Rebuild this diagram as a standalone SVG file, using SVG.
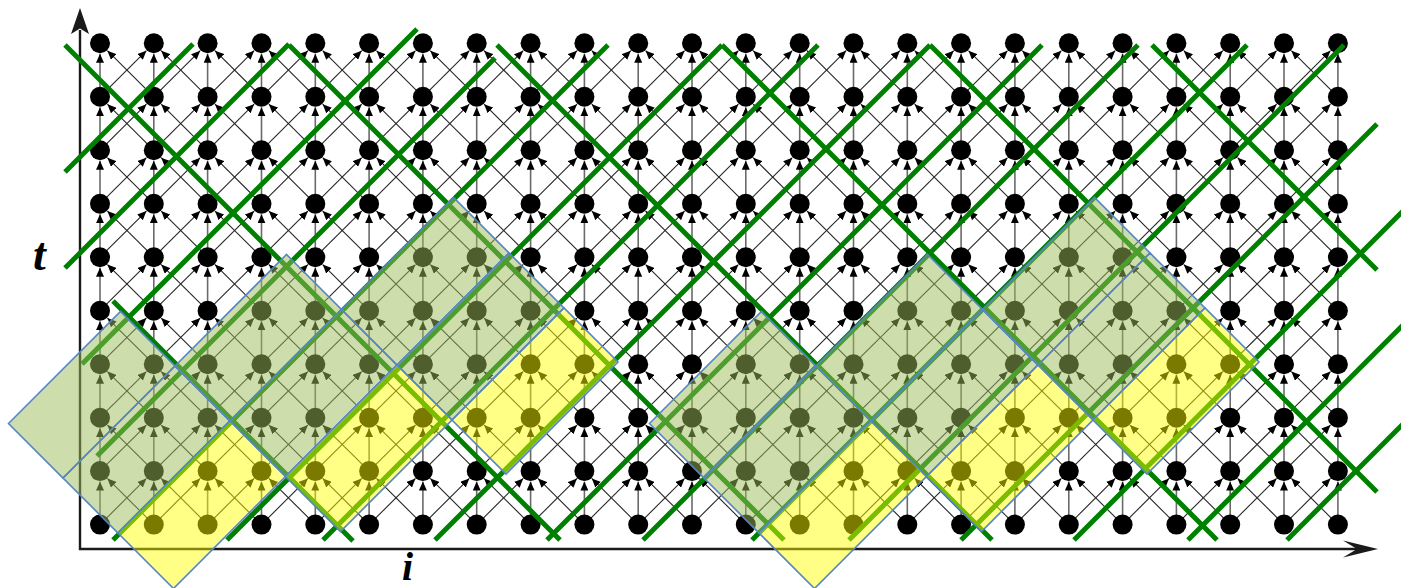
<svg xmlns="http://www.w3.org/2000/svg" xmlns:xlink="http://www.w3.org/1999/xlink" width="1401" height="588" viewBox="0 0 1401 588">
<style>
.v{stroke:#6a6a6a;stroke-width:1.6;fill:none;marker-end:url(#ah)}
.d{stroke:#262626;stroke-width:1.1;fill:none;marker-end:url(#ah)}
.ax{stroke:#1a1a1a;stroke-width:2.4;fill:none}
.axh{fill:#1a1a1a}
.grn{stroke:#008000;stroke-width:5;fill:none}
.ol{fill:#9bbb59;fill-opacity:0.5;stroke:#5585c5;stroke-width:1.6}
.ye{fill:#ffff00;fill-opacity:0.48;stroke:#5585c5;stroke-width:1.6}
.lbl{font-family:"Liberation Serif",serif;font-style:italic;font-weight:bold;font-size:46px;fill:#000}
</style>
<defs>
<marker id="ah" viewBox="0 0 9 8" refX="9" refY="4" markerWidth="9" markerHeight="8" markerUnits="userSpaceOnUse" orient="auto"><path d="M0,0 L9,4 L0,8 z" fill="#000"/></marker>
<circle id="dot" r="10" fill="#000"/>
<g id="c3"><line class="v" x1="0" y1="53.48" x2="0" y2="10.5"/><line class="d" x1="-53.82" y1="53.48" x2="-7.4" y2="7.35"/><line class="d" x1="53.82" y1="53.48" x2="7.4" y2="7.35"/></g>
<g id="cL"><line class="v" x1="0" y1="53.48" x2="0" y2="10.5"/><line class="d" x1="53.82" y1="53.48" x2="7.4" y2="7.35"/></g>
<g id="cR"><line class="v" x1="0" y1="53.48" x2="0" y2="10.5"/><line class="d" x1="-53.82" y1="53.48" x2="-7.4" y2="7.35"/></g>
</defs>
<rect width="1401" height="588" fill="#fff"/>
<g id="connectors">
<g transform="translate(0,43.3)"><use href="#cL" x="100"/><use href="#c3" x="153.8"/><use href="#c3" x="207.6"/><use href="#c3" x="261.5"/><use href="#c3" x="315.3"/><use href="#c3" x="369.1"/><use href="#c3" x="422.9"/><use href="#c3" x="476.7"/><use href="#c3" x="530.6"/><use href="#c3" x="584.4"/><use href="#c3" x="638.2"/><use href="#c3" x="692"/><use href="#c3" x="745.8"/><use href="#c3" x="799.7"/><use href="#c3" x="853.5"/><use href="#c3" x="907.3"/><use href="#c3" x="961.1"/><use href="#c3" x="1014.9"/><use href="#c3" x="1068.8"/><use href="#c3" x="1122.6"/><use href="#c3" x="1176.4"/><use href="#c3" x="1230.2"/><use href="#c3" x="1284"/><use href="#cR" x="1337.9"/></g>
<g transform="translate(0,96.8)"><use href="#cL" x="100"/><use href="#c3" x="153.8"/><use href="#c3" x="207.6"/><use href="#c3" x="261.5"/><use href="#c3" x="315.3"/><use href="#c3" x="369.1"/><use href="#c3" x="422.9"/><use href="#c3" x="476.7"/><use href="#c3" x="530.6"/><use href="#c3" x="584.4"/><use href="#c3" x="638.2"/><use href="#c3" x="692"/><use href="#c3" x="745.8"/><use href="#c3" x="799.7"/><use href="#c3" x="853.5"/><use href="#c3" x="907.3"/><use href="#c3" x="961.1"/><use href="#c3" x="1014.9"/><use href="#c3" x="1068.8"/><use href="#c3" x="1122.6"/><use href="#c3" x="1176.4"/><use href="#c3" x="1230.2"/><use href="#c3" x="1284"/><use href="#cR" x="1337.9"/></g>
<g transform="translate(0,150.3)"><use href="#cL" x="100"/><use href="#c3" x="153.8"/><use href="#c3" x="207.6"/><use href="#c3" x="261.5"/><use href="#c3" x="315.3"/><use href="#c3" x="369.1"/><use href="#c3" x="422.9"/><use href="#c3" x="476.7"/><use href="#c3" x="530.6"/><use href="#c3" x="584.4"/><use href="#c3" x="638.2"/><use href="#c3" x="692"/><use href="#c3" x="745.8"/><use href="#c3" x="799.7"/><use href="#c3" x="853.5"/><use href="#c3" x="907.3"/><use href="#c3" x="961.1"/><use href="#c3" x="1014.9"/><use href="#c3" x="1068.8"/><use href="#c3" x="1122.6"/><use href="#c3" x="1176.4"/><use href="#c3" x="1230.2"/><use href="#c3" x="1284"/><use href="#cR" x="1337.9"/></g>
<g transform="translate(0,203.7)"><use href="#cL" x="100"/><use href="#c3" x="153.8"/><use href="#c3" x="207.6"/><use href="#c3" x="261.5"/><use href="#c3" x="315.3"/><use href="#c3" x="369.1"/><use href="#c3" x="422.9"/><use href="#c3" x="476.7"/><use href="#c3" x="530.6"/><use href="#c3" x="584.4"/><use href="#c3" x="638.2"/><use href="#c3" x="692"/><use href="#c3" x="745.8"/><use href="#c3" x="799.7"/><use href="#c3" x="853.5"/><use href="#c3" x="907.3"/><use href="#c3" x="961.1"/><use href="#c3" x="1014.9"/><use href="#c3" x="1068.8"/><use href="#c3" x="1122.6"/><use href="#c3" x="1176.4"/><use href="#c3" x="1230.2"/><use href="#c3" x="1284"/><use href="#cR" x="1337.9"/></g>
<g transform="translate(0,257.2)"><use href="#cL" x="100"/><use href="#c3" x="153.8"/><use href="#c3" x="207.6"/><use href="#c3" x="261.5"/><use href="#c3" x="315.3"/><use href="#c3" x="369.1"/><use href="#c3" x="422.9"/><use href="#c3" x="476.7"/><use href="#c3" x="530.6"/><use href="#c3" x="584.4"/><use href="#c3" x="638.2"/><use href="#c3" x="692"/><use href="#c3" x="745.8"/><use href="#c3" x="799.7"/><use href="#c3" x="853.5"/><use href="#c3" x="907.3"/><use href="#c3" x="961.1"/><use href="#c3" x="1014.9"/><use href="#c3" x="1068.8"/><use href="#c3" x="1122.6"/><use href="#c3" x="1176.4"/><use href="#c3" x="1230.2"/><use href="#c3" x="1284"/><use href="#cR" x="1337.9"/></g>
<g transform="translate(0,310.7)"><use href="#cL" x="100"/><use href="#c3" x="153.8"/><use href="#c3" x="207.6"/><use href="#c3" x="261.5"/><use href="#c3" x="315.3"/><use href="#c3" x="369.1"/><use href="#c3" x="422.9"/><use href="#c3" x="476.7"/><use href="#c3" x="530.6"/><use href="#c3" x="584.4"/><use href="#c3" x="638.2"/><use href="#c3" x="692"/><use href="#c3" x="745.8"/><use href="#c3" x="799.7"/><use href="#c3" x="853.5"/><use href="#c3" x="907.3"/><use href="#c3" x="961.1"/><use href="#c3" x="1014.9"/><use href="#c3" x="1068.8"/><use href="#c3" x="1122.6"/><use href="#c3" x="1176.4"/><use href="#c3" x="1230.2"/><use href="#c3" x="1284"/><use href="#cR" x="1337.9"/></g>
<g transform="translate(0,364.2)"><use href="#cL" x="100"/><use href="#c3" x="153.8"/><use href="#c3" x="207.6"/><use href="#c3" x="261.5"/><use href="#c3" x="315.3"/><use href="#c3" x="369.1"/><use href="#c3" x="422.9"/><use href="#c3" x="476.7"/><use href="#c3" x="530.6"/><use href="#c3" x="584.4"/><use href="#c3" x="638.2"/><use href="#c3" x="692"/><use href="#c3" x="745.8"/><use href="#c3" x="799.7"/><use href="#c3" x="853.5"/><use href="#c3" x="907.3"/><use href="#c3" x="961.1"/><use href="#c3" x="1014.9"/><use href="#c3" x="1068.8"/><use href="#c3" x="1122.6"/><use href="#c3" x="1176.4"/><use href="#c3" x="1230.2"/><use href="#c3" x="1284"/><use href="#cR" x="1337.9"/></g>
<g transform="translate(0,417.7)"><use href="#cL" x="100"/><use href="#c3" x="153.8"/><use href="#c3" x="207.6"/><use href="#c3" x="261.5"/><use href="#c3" x="315.3"/><use href="#c3" x="369.1"/><use href="#c3" x="422.9"/><use href="#c3" x="476.7"/><use href="#c3" x="530.6"/><use href="#c3" x="584.4"/><use href="#c3" x="638.2"/><use href="#c3" x="692"/><use href="#c3" x="745.8"/><use href="#c3" x="799.7"/><use href="#c3" x="853.5"/><use href="#c3" x="907.3"/><use href="#c3" x="961.1"/><use href="#c3" x="1014.9"/><use href="#c3" x="1068.8"/><use href="#c3" x="1122.6"/><use href="#c3" x="1176.4"/><use href="#c3" x="1230.2"/><use href="#c3" x="1284"/><use href="#cR" x="1337.9"/></g>
<g transform="translate(0,471.1)"><use href="#cL" x="100"/><use href="#c3" x="153.8"/><use href="#c3" x="207.6"/><use href="#c3" x="261.5"/><use href="#c3" x="315.3"/><use href="#c3" x="369.1"/><use href="#c3" x="422.9"/><use href="#c3" x="476.7"/><use href="#c3" x="530.6"/><use href="#c3" x="584.4"/><use href="#c3" x="638.2"/><use href="#c3" x="692"/><use href="#c3" x="745.8"/><use href="#c3" x="799.7"/><use href="#c3" x="853.5"/><use href="#c3" x="907.3"/><use href="#c3" x="961.1"/><use href="#c3" x="1014.9"/><use href="#c3" x="1068.8"/><use href="#c3" x="1122.6"/><use href="#c3" x="1176.4"/><use href="#c3" x="1230.2"/><use href="#c3" x="1284"/><use href="#cR" x="1337.9"/></g>
</g>
<g id="nodes">
<g transform="translate(0,43.3)"><g id="n0-0"><use href="#dot" x="100"/></g><g id="n0-1"><use href="#dot" x="153.8"/></g><g id="n0-2"><use href="#dot" x="207.6"/></g><g id="n0-3"><use href="#dot" x="261.5"/></g><g id="n0-4"><use href="#dot" x="315.3"/></g><g id="n0-5"><use href="#dot" x="369.1"/></g><g id="n0-6"><use href="#dot" x="422.9"/></g><g id="n0-7"><use href="#dot" x="476.7"/></g><g id="n0-8"><use href="#dot" x="530.6"/></g><g id="n0-9"><use href="#dot" x="584.4"/></g><g id="n0-10"><use href="#dot" x="638.2"/></g><g id="n0-11"><use href="#dot" x="692"/></g><g id="n0-12"><use href="#dot" x="745.8"/></g><g id="n0-13"><use href="#dot" x="799.7"/></g><g id="n0-14"><use href="#dot" x="853.5"/></g><g id="n0-15"><use href="#dot" x="907.3"/></g><g id="n0-16"><use href="#dot" x="961.1"/></g><g id="n0-17"><use href="#dot" x="1014.9"/></g><g id="n0-18"><use href="#dot" x="1068.8"/></g><g id="n0-19"><use href="#dot" x="1122.6"/></g><g id="n0-20"><use href="#dot" x="1176.4"/></g><g id="n0-21"><use href="#dot" x="1230.2"/></g><g id="n0-22"><use href="#dot" x="1284"/></g><g id="n0-23"><use href="#dot" x="1337.9"/></g></g>
<g transform="translate(0,96.8)"><g id="n1-0"><use href="#dot" x="100"/></g><g id="n1-1"><use href="#dot" x="153.8"/></g><g id="n1-2"><use href="#dot" x="207.6"/></g><g id="n1-3"><use href="#dot" x="261.5"/></g><g id="n1-4"><use href="#dot" x="315.3"/></g><g id="n1-5"><use href="#dot" x="369.1"/></g><g id="n1-6"><use href="#dot" x="422.9"/></g><g id="n1-7"><use href="#dot" x="476.7"/></g><g id="n1-8"><use href="#dot" x="530.6"/></g><g id="n1-9"><use href="#dot" x="584.4"/></g><g id="n1-10"><use href="#dot" x="638.2"/></g><g id="n1-11"><use href="#dot" x="692"/></g><g id="n1-12"><use href="#dot" x="745.8"/></g><g id="n1-13"><use href="#dot" x="799.7"/></g><g id="n1-14"><use href="#dot" x="853.5"/></g><g id="n1-15"><use href="#dot" x="907.3"/></g><g id="n1-16"><use href="#dot" x="961.1"/></g><g id="n1-17"><use href="#dot" x="1014.9"/></g><g id="n1-18"><use href="#dot" x="1068.8"/></g><g id="n1-19"><use href="#dot" x="1122.6"/></g><g id="n1-20"><use href="#dot" x="1176.4"/></g><g id="n1-21"><use href="#dot" x="1230.2"/></g><g id="n1-22"><use href="#dot" x="1284"/></g><g id="n1-23"><use href="#dot" x="1337.9"/></g></g>
<g transform="translate(0,150.3)"><g id="n2-0"><use href="#dot" x="100"/></g><g id="n2-1"><use href="#dot" x="153.8"/></g><g id="n2-2"><use href="#dot" x="207.6"/></g><g id="n2-3"><use href="#dot" x="261.5"/></g><g id="n2-4"><use href="#dot" x="315.3"/></g><g id="n2-5"><use href="#dot" x="369.1"/></g><g id="n2-6"><use href="#dot" x="422.9"/></g><g id="n2-7"><use href="#dot" x="476.7"/></g><g id="n2-8"><use href="#dot" x="530.6"/></g><g id="n2-9"><use href="#dot" x="584.4"/></g><g id="n2-10"><use href="#dot" x="638.2"/></g><g id="n2-11"><use href="#dot" x="692"/></g><g id="n2-12"><use href="#dot" x="745.8"/></g><g id="n2-13"><use href="#dot" x="799.7"/></g><g id="n2-14"><use href="#dot" x="853.5"/></g><g id="n2-15"><use href="#dot" x="907.3"/></g><g id="n2-16"><use href="#dot" x="961.1"/></g><g id="n2-17"><use href="#dot" x="1014.9"/></g><g id="n2-18"><use href="#dot" x="1068.8"/></g><g id="n2-19"><use href="#dot" x="1122.6"/></g><g id="n2-20"><use href="#dot" x="1176.4"/></g><g id="n2-21"><use href="#dot" x="1230.2"/></g><g id="n2-22"><use href="#dot" x="1284"/></g><g id="n2-23"><use href="#dot" x="1337.9"/></g></g>
<g transform="translate(0,203.7)"><g id="n3-0"><use href="#dot" x="100"/></g><g id="n3-1"><use href="#dot" x="153.8"/></g><g id="n3-2"><use href="#dot" x="207.6"/></g><g id="n3-3"><use href="#dot" x="261.5"/></g><g id="n3-4"><use href="#dot" x="315.3"/></g><g id="n3-5"><use href="#dot" x="369.1"/></g><g id="n3-6"><use href="#dot" x="422.9"/></g><g id="n3-7"><use href="#dot" x="476.7"/></g><g id="n3-8"><use href="#dot" x="530.6"/></g><g id="n3-9"><use href="#dot" x="584.4"/></g><g id="n3-10"><use href="#dot" x="638.2"/></g><g id="n3-11"><use href="#dot" x="692"/></g><g id="n3-12"><use href="#dot" x="745.8"/></g><g id="n3-13"><use href="#dot" x="799.7"/></g><g id="n3-14"><use href="#dot" x="853.5"/></g><g id="n3-15"><use href="#dot" x="907.3"/></g><g id="n3-16"><use href="#dot" x="961.1"/></g><g id="n3-17"><use href="#dot" x="1014.9"/></g><g id="n3-18"><use href="#dot" x="1068.8"/></g><g id="n3-19"><use href="#dot" x="1122.6"/></g><g id="n3-20"><use href="#dot" x="1176.4"/></g><g id="n3-21"><use href="#dot" x="1230.2"/></g><g id="n3-22"><use href="#dot" x="1284"/></g><g id="n3-23"><use href="#dot" x="1337.9"/></g></g>
<g transform="translate(0,257.2)"><g id="n4-0"><use href="#dot" x="100"/></g><g id="n4-1"><use href="#dot" x="153.8"/></g><g id="n4-2"><use href="#dot" x="207.6"/></g><g id="n4-3"><use href="#dot" x="261.5"/></g><g id="n4-4"><use href="#dot" x="315.3"/></g><g id="n4-5"><use href="#dot" x="369.1"/></g><g id="n4-6"><use href="#dot" x="422.9"/></g><g id="n4-7"><use href="#dot" x="476.7"/></g><g id="n4-8"><use href="#dot" x="530.6"/></g><g id="n4-9"><use href="#dot" x="584.4"/></g><g id="n4-10"><use href="#dot" x="638.2"/></g><g id="n4-11"><use href="#dot" x="692"/></g><g id="n4-12"><use href="#dot" x="745.8"/></g><g id="n4-13"><use href="#dot" x="799.7"/></g><g id="n4-14"><use href="#dot" x="853.5"/></g><g id="n4-15"><use href="#dot" x="907.3"/></g><g id="n4-16"><use href="#dot" x="961.1"/></g><g id="n4-17"><use href="#dot" x="1014.9"/></g><g id="n4-18"><use href="#dot" x="1068.8"/></g><g id="n4-19"><use href="#dot" x="1122.6"/></g><g id="n4-20"><use href="#dot" x="1176.4"/></g><g id="n4-21"><use href="#dot" x="1230.2"/></g><g id="n4-22"><use href="#dot" x="1284"/></g><g id="n4-23"><use href="#dot" x="1337.9"/></g></g>
<g transform="translate(0,310.7)"><g id="n5-0"><use href="#dot" x="100"/></g><g id="n5-1"><use href="#dot" x="153.8"/></g><g id="n5-2"><use href="#dot" x="207.6"/></g><g id="n5-3"><use href="#dot" x="261.5"/></g><g id="n5-4"><use href="#dot" x="315.3"/></g><g id="n5-5"><use href="#dot" x="369.1"/></g><g id="n5-6"><use href="#dot" x="422.9"/></g><g id="n5-7"><use href="#dot" x="476.7"/></g><g id="n5-8"><use href="#dot" x="530.6"/></g><g id="n5-9"><use href="#dot" x="584.4"/></g><g id="n5-10"><use href="#dot" x="638.2"/></g><g id="n5-11"><use href="#dot" x="692"/></g><g id="n5-12"><use href="#dot" x="745.8"/></g><g id="n5-13"><use href="#dot" x="799.7"/></g><g id="n5-14"><use href="#dot" x="853.5"/></g><g id="n5-15"><use href="#dot" x="907.3"/></g><g id="n5-16"><use href="#dot" x="961.1"/></g><g id="n5-17"><use href="#dot" x="1014.9"/></g><g id="n5-18"><use href="#dot" x="1068.8"/></g><g id="n5-19"><use href="#dot" x="1122.6"/></g><g id="n5-20"><use href="#dot" x="1176.4"/></g><g id="n5-21"><use href="#dot" x="1230.2"/></g><g id="n5-22"><use href="#dot" x="1284"/></g><g id="n5-23"><use href="#dot" x="1337.9"/></g></g>
<g transform="translate(0,364.2)"><g id="n6-0"><use href="#dot" x="100"/></g><g id="n6-1"><use href="#dot" x="153.8"/></g><g id="n6-2"><use href="#dot" x="207.6"/></g><g id="n6-3"><use href="#dot" x="261.5"/></g><g id="n6-4"><use href="#dot" x="315.3"/></g><g id="n6-5"><use href="#dot" x="369.1"/></g><g id="n6-6"><use href="#dot" x="422.9"/></g><g id="n6-7"><use href="#dot" x="476.7"/></g><g id="n6-8"><use href="#dot" x="530.6"/></g><g id="n6-9"><use href="#dot" x="584.4"/></g><g id="n6-10"><use href="#dot" x="638.2"/></g><g id="n6-11"><use href="#dot" x="692"/></g><g id="n6-12"><use href="#dot" x="745.8"/></g><g id="n6-13"><use href="#dot" x="799.7"/></g><g id="n6-14"><use href="#dot" x="853.5"/></g><g id="n6-15"><use href="#dot" x="907.3"/></g><g id="n6-16"><use href="#dot" x="961.1"/></g><g id="n6-17"><use href="#dot" x="1014.9"/></g><g id="n6-18"><use href="#dot" x="1068.8"/></g><g id="n6-19"><use href="#dot" x="1122.6"/></g><g id="n6-20"><use href="#dot" x="1176.4"/></g><g id="n6-21"><use href="#dot" x="1230.2"/></g><g id="n6-22"><use href="#dot" x="1284"/></g><g id="n6-23"><use href="#dot" x="1337.9"/></g></g>
<g transform="translate(0,417.7)"><g id="n7-0"><use href="#dot" x="100"/></g><g id="n7-1"><use href="#dot" x="153.8"/></g><g id="n7-2"><use href="#dot" x="207.6"/></g><g id="n7-3"><use href="#dot" x="261.5"/></g><g id="n7-4"><use href="#dot" x="315.3"/></g><g id="n7-5"><use href="#dot" x="369.1"/></g><g id="n7-6"><use href="#dot" x="422.9"/></g><g id="n7-7"><use href="#dot" x="476.7"/></g><g id="n7-8"><use href="#dot" x="530.6"/></g><g id="n7-9"><use href="#dot" x="584.4"/></g><g id="n7-10"><use href="#dot" x="638.2"/></g><g id="n7-11"><use href="#dot" x="692"/></g><g id="n7-12"><use href="#dot" x="745.8"/></g><g id="n7-13"><use href="#dot" x="799.7"/></g><g id="n7-14"><use href="#dot" x="853.5"/></g><g id="n7-15"><use href="#dot" x="907.3"/></g><g id="n7-16"><use href="#dot" x="961.1"/></g><g id="n7-17"><use href="#dot" x="1014.9"/></g><g id="n7-18"><use href="#dot" x="1068.8"/></g><g id="n7-19"><use href="#dot" x="1122.6"/></g><g id="n7-20"><use href="#dot" x="1176.4"/></g><g id="n7-21"><use href="#dot" x="1230.2"/></g><g id="n7-22"><use href="#dot" x="1284"/></g><g id="n7-23"><use href="#dot" x="1337.9"/></g></g>
<g transform="translate(0,471.1)"><g id="n8-0"><use href="#dot" x="100"/></g><g id="n8-1"><use href="#dot" x="153.8"/></g><g id="n8-2"><use href="#dot" x="207.6"/></g><g id="n8-3"><use href="#dot" x="261.5"/></g><g id="n8-4"><use href="#dot" x="315.3"/></g><g id="n8-5"><use href="#dot" x="369.1"/></g><g id="n8-6"><use href="#dot" x="422.9"/></g><g id="n8-7"><use href="#dot" x="476.7"/></g><g id="n8-8"><use href="#dot" x="530.6"/></g><g id="n8-9"><use href="#dot" x="584.4"/></g><g id="n8-10"><use href="#dot" x="638.2"/></g><g id="n8-11"><use href="#dot" x="692"/></g><g id="n8-12"><use href="#dot" x="745.8"/></g><g id="n8-13"><use href="#dot" x="799.7"/></g><g id="n8-14"><use href="#dot" x="853.5"/></g><g id="n8-15"><use href="#dot" x="907.3"/></g><g id="n8-16"><use href="#dot" x="961.1"/></g><g id="n8-17"><use href="#dot" x="1014.9"/></g><g id="n8-18"><use href="#dot" x="1068.8"/></g><g id="n8-19"><use href="#dot" x="1122.6"/></g><g id="n8-20"><use href="#dot" x="1176.4"/></g><g id="n8-21"><use href="#dot" x="1230.2"/></g><g id="n8-22"><use href="#dot" x="1284"/></g><g id="n8-23"><use href="#dot" x="1337.9"/></g></g>
<g transform="translate(0,524.6)"><g id="n9-0"><use href="#dot" x="100"/></g><g id="n9-1"><use href="#dot" x="153.8"/></g><g id="n9-2"><use href="#dot" x="207.6"/></g><g id="n9-3"><use href="#dot" x="261.5"/></g><g id="n9-4"><use href="#dot" x="315.3"/></g><g id="n9-5"><use href="#dot" x="369.1"/></g><g id="n9-6"><use href="#dot" x="422.9"/></g><g id="n9-7"><use href="#dot" x="476.7"/></g><g id="n9-8"><use href="#dot" x="530.6"/></g><g id="n9-9"><use href="#dot" x="584.4"/></g><g id="n9-10"><use href="#dot" x="638.2"/></g><g id="n9-11"><use href="#dot" x="692"/></g><g id="n9-12"><use href="#dot" x="745.8"/></g><g id="n9-13"><use href="#dot" x="799.7"/></g><g id="n9-14"><use href="#dot" x="853.5"/></g><g id="n9-15"><use href="#dot" x="907.3"/></g><g id="n9-16"><use href="#dot" x="961.1"/></g><g id="n9-17"><use href="#dot" x="1014.9"/></g><g id="n9-18"><use href="#dot" x="1068.8"/></g><g id="n9-19"><use href="#dot" x="1122.6"/></g><g id="n9-20"><use href="#dot" x="1176.4"/></g><g id="n9-21"><use href="#dot" x="1230.2"/></g><g id="n9-22"><use href="#dot" x="1284"/></g><g id="n9-23"><use href="#dot" x="1337.9"/></g></g>
</g>
<g id="axes">
<path class="ax" d="M80,30 L80,549 L1358,549"/>
<polygon class="axh" points="80,8 89,34 80,28.5 71,34"/>
<polygon class="axh" points="1378,549 1343,540.5 1357,549 1343,557.5"/>
</g>
<g id="tile-lines">
<path class="grn" d="M113,301 L353,541 M65,45 L560,540 M289,45 L784,540 M497,45 L992,540 M722,45 L1217,540 M930,45 L1377,492 M1152,45 L1377,270"/>
<path class="grn" d="M65,172 L193,44 M65,268 L289,44 M82,364 L417,29 M97,456 L495,58 M113,540 L608,45 M227,540 L722,45 M323,540 L818,45 M435,540 L930,45 M547,540 L1042,45 M643,540 L1138,45 M752,540 L1247,45 M849,540 L1344,45 M961,540 L1377,124 M1074,540 L1410,204 M1188,540 L1410,318 M1287,540 L1410,417"/>
</g>
<g id="tiles-left">
<polygon class="ol" points="8.5,423.5 120.5,311.5 175,366 63,478"/>
<polygon class="ol" points="63,478 175,366 230,421 118,533"/>
<polygon class="ol" points="175,366 286.5,254.5 341.5,309.5 230,421"/>
<polygon class="ol" points="230,421 341.5,309.5 397,365 285.5,476.5"/>
<polygon class="ol" points="341.5,309.5 453.5,197.5 509,253 397,365"/>
<polygon class="ol" points="397,365 509,253 564,308 452,420"/>
<polygon class="ye" points="118,533 230,421 285.5,476.5 173.5,588.5"/>
<polygon class="ye" points="285.5,476.5 397,365 452,420 340.5,531.5"/>
<polygon class="ye" points="452,420 564,308 618,362 506,474"/>
</g>
<g id="tiles-right">
<use href="#tiles-left" transform="translate(641,0)"/>
</g>
<g id="labels">
<text class="lbl" x="33" y="270">t</text>
<text class="lbl" x="402" y="580" style="font-size:40px">i</text>
</g>
</svg>
